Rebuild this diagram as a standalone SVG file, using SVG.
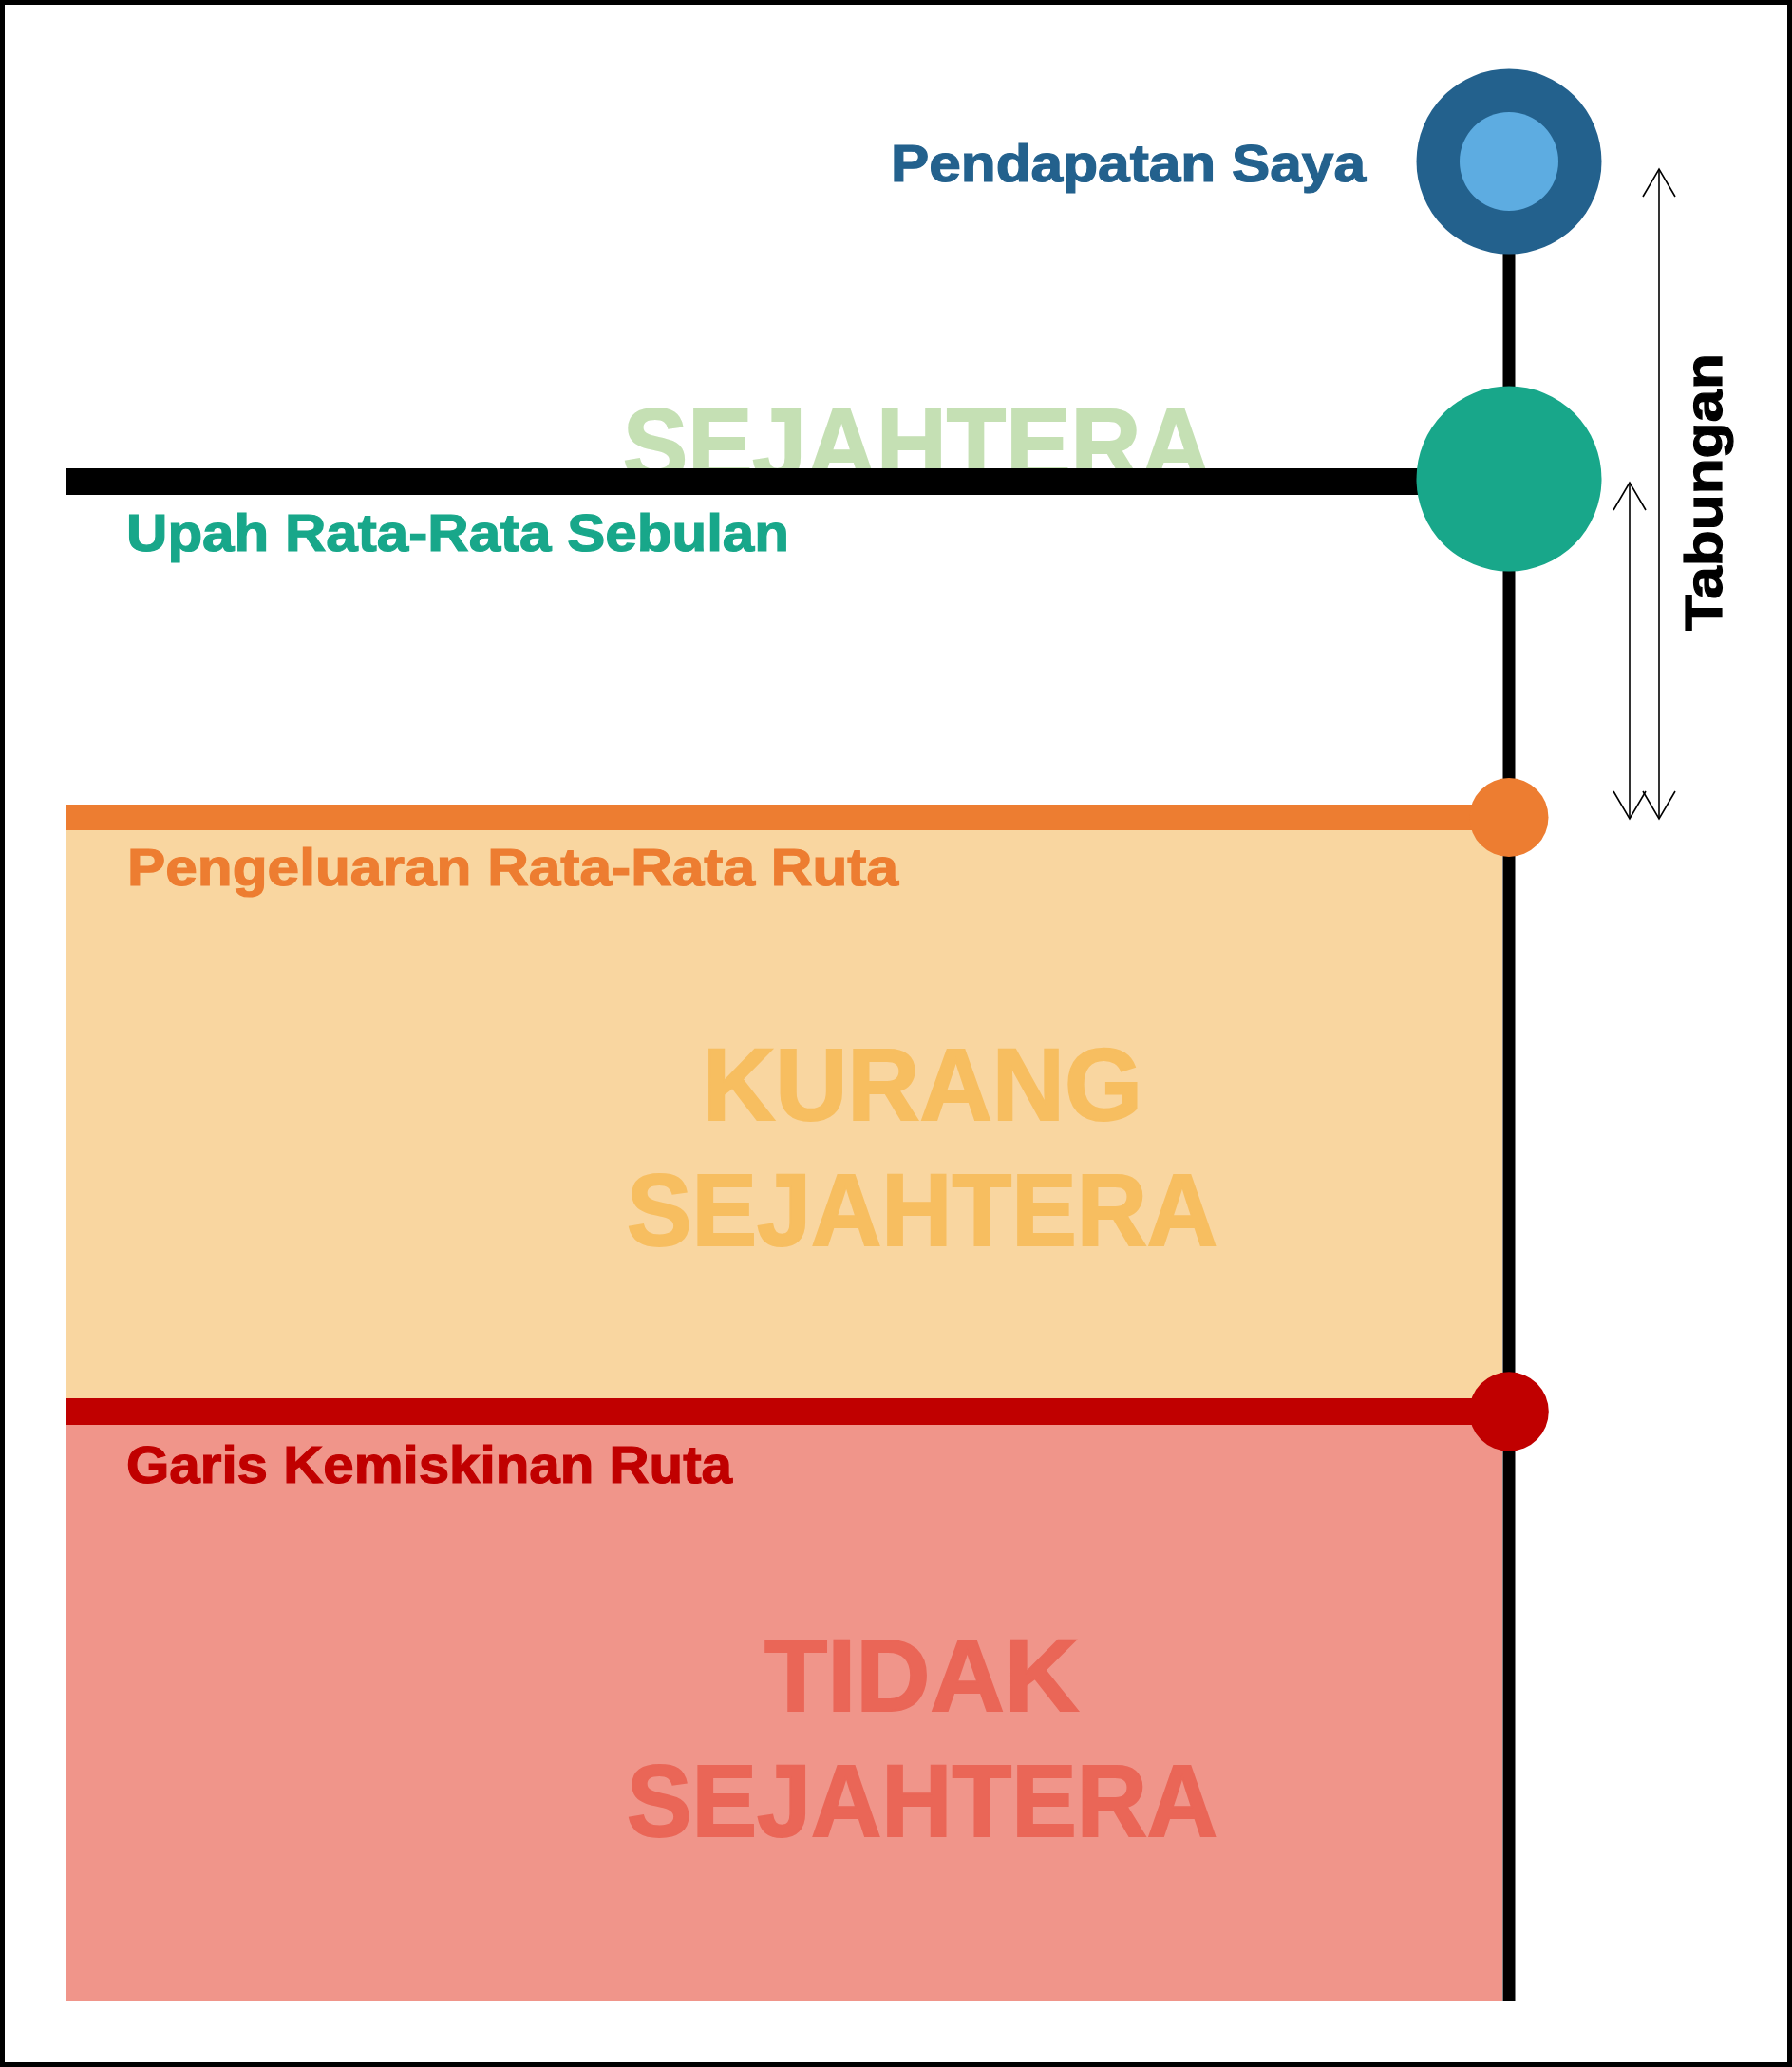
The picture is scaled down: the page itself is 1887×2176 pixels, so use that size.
<svg xmlns="http://www.w3.org/2000/svg" width="1887" height="2176" viewBox="0 0 1887 2176">
  <style>
    .lbl { font-family: "Liberation Sans", Arial, sans-serif; font-weight: bold; font-size: 55px; stroke-width: 1.2px; }
    .big { font-family: "Liberation Sans", Arial, sans-serif; font-weight: bold; font-size: 108px; stroke-width: 2px; }
    .arr { stroke: #000; stroke-width: 1.6; fill: none; }
  </style>
  <defs>
    <marker id="ah" viewBox="0 0 30 34" refX="29" refY="17" markerWidth="30" markerHeight="34" markerUnits="userSpaceOnUse" orient="auto-start-reverse" overflow="visible">
      <path d="M0,0 L29,17 L0,34" fill="none" stroke="#000" stroke-width="1.6"/>
    </marker>
  </defs>
  <rect x="0" y="0" width="1887" height="2176" fill="#ffffff"/>
  <rect x="2.5" y="2.5" width="1882" height="2171" fill="none" stroke="#000" stroke-width="5"/>

  <g id="zone-kurang">
    <rect x="69" y="874" width="1513" height="598" fill="#F9D6A0"/>
    <text class="big" fill="#F7BE60" stroke="#F7BE60" x="740" y="1179" textLength="463" lengthAdjust="spacingAndGlyphs">KURANG</text>
    <text class="big" fill="#F7BE60" stroke="#F7BE60" x="660" y="1311" textLength="622" lengthAdjust="spacingAndGlyphs">SEJAHTERA</text>
  </g>
  <g id="zone-tidak">
    <rect x="69" y="1500" width="1513" height="607" fill="#F0958A"/>
    <text class="big" fill="#EA6657" stroke="#EA6657" x="805" y="1801" textLength="331" lengthAdjust="spacingAndGlyphs">TIDAK</text>
    <text class="big" fill="#EA6657" stroke="#EA6657" x="660" y="1933" textLength="622" lengthAdjust="spacingAndGlyphs">SEJAHTERA</text>
  </g>
  <g id="zone-sejahtera">
    <text class="big" fill="#C5E0B4" stroke="#C5E0B4" x="656" y="505" textLength="619" lengthAdjust="spacingAndGlyphs">SEJAHTERA</text>
  </g>

  <g id="connectors">
    <rect x="1582.5" y="170" width="13" height="1936" fill="#000"/>
    <rect x="69" y="493" width="1520" height="28" fill="#000"/>
    <rect x="69" y="847" width="1520" height="27" fill="#ED7D31"/>
    <rect x="69" y="1472" width="1520" height="28" fill="#C00000"/>
    <line class="arr" x1="1747" y1="178" x2="1747" y2="862" marker-start="url(#ah)" marker-end="url(#ah)"/>
    <line class="arr" x1="1716" y1="508" x2="1716" y2="862" marker-start="url(#ah)" marker-end="url(#ah)"/>
  </g>

  <g id="node-pendapatan">
    <circle cx="1589" cy="170" r="97.5" fill="#23618D"/>
    <circle cx="1589" cy="170" r="52" fill="#5DACE1"/>
    <text class="lbl" fill="#23618D" stroke="#23618D" x="938" y="191" textLength="500" lengthAdjust="spacingAndGlyphs">Pendapatan Saya</text>
  </g>
  <g id="node-upah">
    <circle cx="1589" cy="504" r="97.5" fill="#18A78A"/>
    <text class="lbl" fill="#18A78A" stroke="#18A78A" x="133" y="580" textLength="698" lengthAdjust="spacingAndGlyphs">Upah Rata-Rata Sebulan</text>
  </g>
  <g id="node-pengeluaran">
    <circle cx="1589" cy="860.5" r="41.5" fill="#ED7D31"/>
    <text class="lbl" fill="#ED7D31" stroke="#ED7D31" x="134" y="932" textLength="812" lengthAdjust="spacingAndGlyphs">Pengeluaran Rata-Rata Ruta</text>
  </g>
  <g id="node-garis">
    <circle cx="1589" cy="1486" r="41.8" fill="#C00000"/>
    <text class="lbl" fill="#C00000" stroke="#C00000" x="133" y="1561" textLength="638" lengthAdjust="spacingAndGlyphs">Garis Kemiskinan Ruta</text>
  </g>
  <g id="label-tabungan">
    <text class="lbl" fill="#000" stroke="#000" transform="translate(1813,664) rotate(-90)" x="0" y="0" textLength="292" lengthAdjust="spacingAndGlyphs">Tabungan</text>
  </g>
</svg>
